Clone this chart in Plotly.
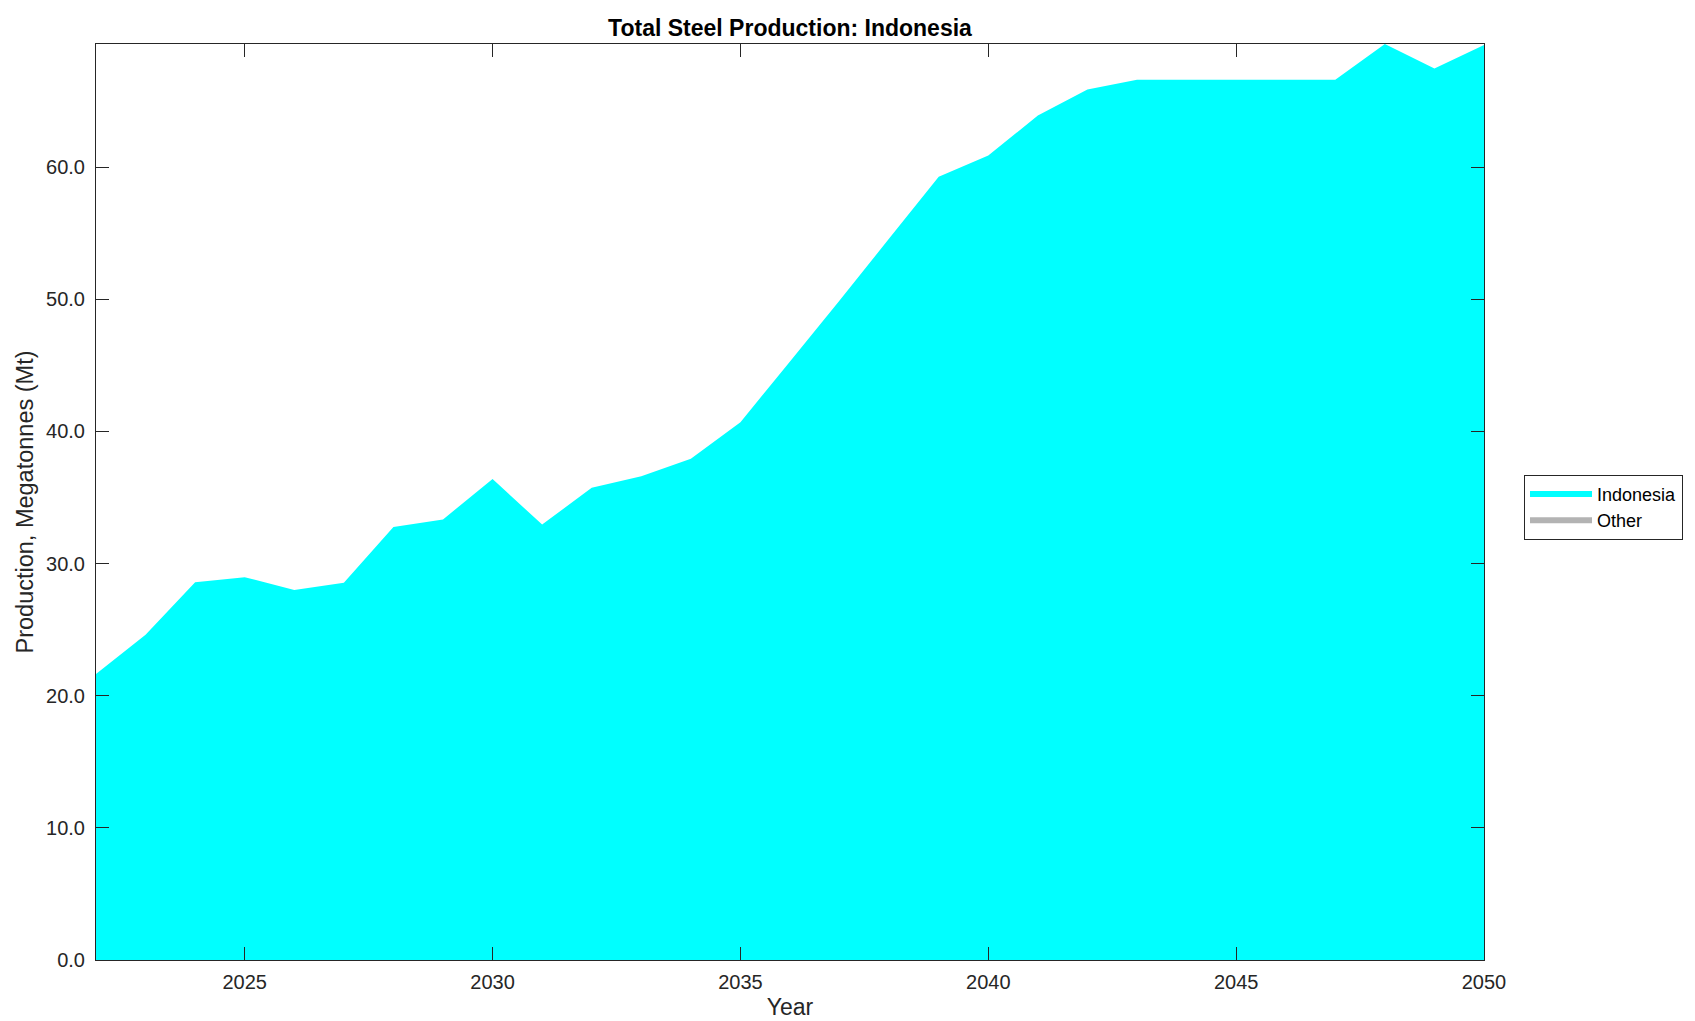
import plotly.graph_objects as go

years = list(range(2022, 2051))
indonesia = [21.65, 24.62, 28.58, 28.97, 28.0, 28.55, 32.77, 33.34, 36.4, 32.95,
             35.74, 36.6, 37.93, 40.7, 45.3, 49.9, 54.6, 59.27, 60.88, 63.91,
             65.88, 66.62, 66.62, 66.62, 66.62, 66.62, 69.32, 67.47, 69.24]
other = [0.0] * len(years)

y_ticks = [0, 10, 20, 30, 40, 50, 60]
x_ticks = [2025, 2030, 2035, 2040, 2045, 2050]

FONT = "Liberation Sans, Arial, Helvetica, sans-serif"

fig = go.Figure()
fig.add_trace(go.Scatter(x=years, y=indonesia, name="Indonesia", stackgroup="one",
                         mode="none", fillcolor="#00ffff", line=dict(width=0)))
fig.add_trace(go.Scatter(x=years, y=other, name="Other", stackgroup="one",
                         mode="none", fillcolor="#b3b3b3", line=dict(width=0)))

axis_common = dict(showline=True, linecolor="#262626", linewidth=1, mirror="ticks",
                   ticks="inside", ticklen=13, tickcolor="#262626", showgrid=False,
                   zeroline=False, tickfont=dict(family=FONT, size=20, color="#262626"))

L, R, T, B = 88, 1476, 36, 952.5
fig.update_layout(
    width=1695, height=1021,
    margin=dict(l=L, r=1695 - R, t=T, b=1021 - B, autoexpand=False),
    paper_bgcolor="white", plot_bgcolor="white",
    title=dict(text="<b>Total Steel Production: Indonesia</b>", x=782 / 1695,
               xanchor="center", y=1 - 20 / 1021, yanchor="middle",
               font=dict(family=FONT, size=23, color="black")),
    xaxis=dict(range=[2022, 2050], tickvals=x_ticks, ticktext=[str(v) for v in x_ticks],
               ticklabelstandoff=4,
               title=dict(text="Year", font=dict(family=FONT, size=23, color="#262626"), standoff=6),
               **axis_common),
    yaxis=dict(range=[0, 69.32], tickvals=y_ticks, ticktext=[f"{v:.1f}" for v in y_ticks],
               ticklabelstandoff=6,
               title=dict(text="Production, Megatonnes (Mt)", font=dict(family=FONT, size=23.5, color="#262626"), standoff=5),
               **axis_common),
    legend=dict(x=(1516 - L) / (R - L), xanchor="left", y=(B - 467) / (B - T), yanchor="top",
                bordercolor="#262626", borderwidth=1, bgcolor="white",
                font=dict(family=FONT, size=18, color="black"),
                itemwidth=62, tracegroupgap=0, traceorder="normal"),
    showlegend=True,
)

fig.write_html("out.html")
